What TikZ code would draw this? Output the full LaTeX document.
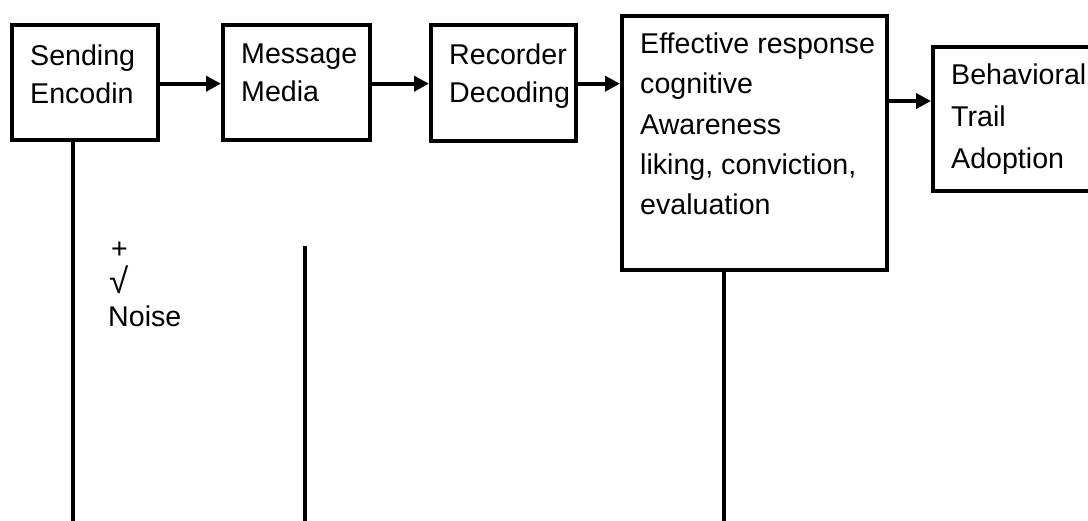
\documentclass[tikz,border=0pt]{standalone}
\usepackage{fontspec}
\setmainfont{Liberation Sans}
\usetikzlibrary{positioning, arrows.meta}

\begin{document}
\begin{tikzpicture}[x=1pt, y=-1pt,
    box/.style={draw, line width=4pt, inner sep=0pt, anchor=north west},
    txt/.style={anchor=north west, inner sep=0pt, align=left, font=\fontsize{28.6}{38}\selectfont},
    note/.style={anchor=base west, inner sep=0pt, font=\fontsize{28.6}{34}\selectfont},
    arr/.style={line width=4pt, -{Triangle[length=15pt, width=15pt]}},
    wire/.style={line width=3.8pt}]
    \clip (0,0) rectangle (1088,521);
    \node[box, minimum width=146pt, minimum height=115pt] (send) at (10,23) {};
    \node[box, minimum width=146.5pt, minimum height=115pt] (msg) at (221,23) {};
    \node[box, minimum width=145pt, minimum height=116pt] (rec) at (429,23) {};
    \node[box, minimum width=265pt, minimum height=254pt] (resp) at (620,14) {};
    \node[box, minimum width=200pt, minimum height=144pt] (behav) at (931,44.7) {};

    \node[txt] (sendtxt) at ([xshift=20pt, yshift=-21.5pt]send.north west) {Sending\\Encodin};
    \node[txt] (msgtxt) at ([xshift=20pt, yshift=-21pt]msg.north west) {Message\\Media};
    \node[txt] (rectxt) at ([xshift=20pt, yshift=-21pt]rec.north west) {Recorder\\Decoding};
    \node[txt, font=\fontsize{28.6}{40.3}\selectfont] (resptxt) at ([xshift=20pt, yshift=-18.5pt]resp.north west)
        {Effective response\\cognitive\\Awareness\\liking, conviction,\\evaluation};
    \node[txt, font=\fontsize{28.6}{41.7}\selectfont] (behavtxt) at ([xshift=20pt, yshift=-19pt]behav.north west)
        {Behavioral\\Trail\\Adoption};

    \coordinate (ya) at (0,83.7);
    \coordinate (yb) at (0,101);
    \draw[arr] (send.east |- ya) -- (msg.west |- ya);
    \draw[arr] (msg.east |- ya) -- (rec.west |- ya);
    \draw[arr] (rec.east |- ya) -- (resp.west |- ya);
    \draw[arr] (resp.east |- yb) -- (behav.west |- yb);

    \coordinate (n1) at (73.3,521);
    \coordinate (n2top) at (304.7,245.7);
    \coordinate (n2) at (304.7,521);
    \coordinate (n3) at (724,521);
    \draw[wire] (send.south -| n1) -- (n1);
    \draw[wire] (n2top) -- (n2);
    \draw[wire] (resp.south -| n3) -- (n3);

    \node[note] (plus) at (111,259) {+};
    \node[note, font=\fontsize{35}{34}\selectfont] (root) at (109,294) {√};
    \node[note] (noise) at (108,326.7) {Noise};
\end{tikzpicture}
\end{document}
